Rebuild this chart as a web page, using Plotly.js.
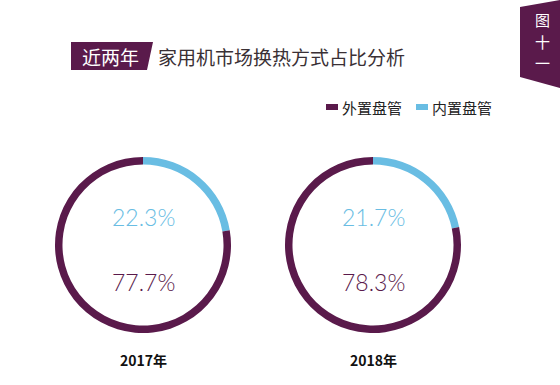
<!DOCTYPE html>
<html><head><meta charset="utf-8">
<script src="https://cdn.plot.ly/plotly-3.0.1.min.js"></script>
<style>html,body{margin:0;padding:0;background:#fff}#chart{width:560px;height:385px}</style>
</head><body><div id="chart"></div>
<script>
const years = ['2017年', '2018年'];
const categories = ['内置盘管', '外置盘管'];
const legendOrder = ['外置盘管', '内置盘管'];
const internalShare = [22.3, 21.7];
const externalShare = [77.7, 78.3];
const titleTag = '近两年';
const titleText = '家用机市场换热方式占比分析';
const figTag = ['图', '十', '一'];

const PURPLE = '#5A1A4B';
const BLUE = '#69BDE3';
const W = 560, H = 385;
const px = x => x / W;
const py = y => 1 - y / H;

const centers = [[143, 245], [373, 245]];
const R = 88;
const traces = years.map((yr, i) => ({
  type: 'pie',
  values: [internalShare[i], externalShare[i]],
  labels: categories,
  hole: 0.915,
  sort: false,
  direction: 'clockwise',
  rotation: 0,
  textinfo: 'none',
  hoverinfo: 'label+percent',
  marker: {colors: [BLUE, PURPLE], line: {width: 0}},
  domain: {x: [px(centers[i][0] - R), px(centers[i][0] + R)],
           y: [py(centers[i][1] + R), py(centers[i][1] - R)]},
  showlegend: false
}));

const ann = (x, y, text, font, xanchor) => ({x: px(x), y: py(y), xref: 'paper', yref: 'paper',
  showarrow: false, xanchor: xanchor || 'center', yanchor: 'middle', text, font});

const annotations = [];
years.forEach((yr, i) => {
  const [cx, cy] = centers[i];
  annotations.push(ann(cx, cy - 28, internalShare[i].toFixed(1) + '%',
    {family: 'Lato, "Open Sans", sans-serif', size: 23, color: BLUE, weight: 300}));
  annotations.push(ann(cx, cy + 37, externalShare[i].toFixed(1) + '%',
    {family: 'Lato, "Open Sans", sans-serif', size: 23, color: PURPLE, weight: 300}));
  annotations.push(ann(cx, 360, '<b>' + yr + '</b>',
    {family: '"Noto Sans CJK SC", sans-serif', size: 14, color: '#111'}));
});
annotations.push(ann(110, 56, titleTag, {family: '"Noto Sans CJK SC", sans-serif', size: 19, color: '#fff'}));
annotations.push(ann(156, 56, titleText, {family: '"Noto Sans CJK SC", sans-serif', size: 19, color: '#3a3035'}, 'left'));
const tagY = [19, 41, 63];
figTag.forEach((ch, i) => {
  annotations.push(ann(542, tagY[i], ch, {family: '"Noto Sans CJK SC", sans-serif', size: 15, color: '#fff'}));
});

const legColors = {'外置盘管': PURPLE, '内置盘管': BLUE};
const legX = [326, 416];
const shapes = [];
legendOrder.forEach((name, i) => {
  shapes.push({type: 'rect', xref: 'paper', yref: 'paper', x0: px(legX[i]), x1: px(legX[i] + 12),
    y0: py(110), y1: py(104), fillcolor: legColors[name], line: {width: 0}, layer: 'below'});
  annotations.push(ann(legX[i] + 14, 107, name, {family: '"Noto Sans CJK SC", sans-serif', size: 15, color: '#222'}, 'left'));
});
shapes.push({type: 'path', xref: 'paper', yref: 'paper', layer: 'below',
  path: `M${px(71)},${py(42)} L${px(153)},${py(42)} L${px(147)},${py(70)} L${px(71)},${py(70)} Z`,
  fillcolor: PURPLE, line: {width: 0}});
shapes.push({type: 'path', xref: 'paper', yref: 'paper', layer: 'below',
  path: `M${px(520)},${py(7)} L${px(560)},${py(0)} L${px(560)},${py(88)} L${px(520)},${py(77)} Z`,
  fillcolor: PURPLE, line: {width: 0}});

Plotly.newPlot('chart', traces, {
  width: W, height: H,
  margin: {l: 0, r: 0, t: 0, b: 0},
  paper_bgcolor: '#fff',
  showlegend: false,
  annotations, shapes
}, {displayModeBar: false});
</script></body></html>
